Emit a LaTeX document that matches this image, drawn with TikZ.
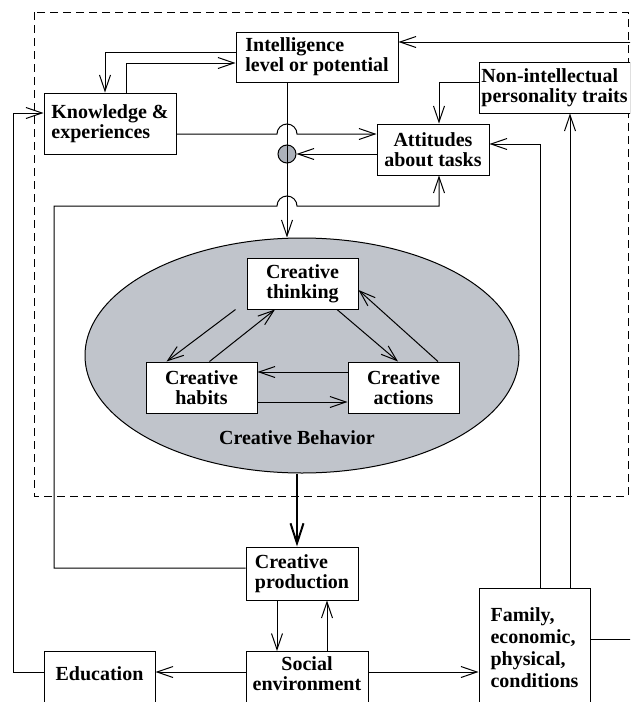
\documentclass[tikz,border=0pt]{standalone}
\usepackage{fontspec}
\setmainfont{Liberation Serif}
\usetikzlibrary{arrows.meta,shapes.geometric}
\definecolor{behavgray}{RGB}{192,196,203}
\definecolor{dotgray}{RGB}{172,177,186}

\begin{document}
\begin{tikzpicture}[x=1pt,y=-1pt,line width=1pt,
    box/.style={draw,fill=white,inner sep=0pt,font=\fontsize{20}{20}\selectfont\bfseries},
    arr/.style={-{Straight Barb[length=16pt,width=11pt]}},
    bigarr/.style={line width=2pt,-{Straight Barb[length=20pt,width=13pt]}}]
    \useasboundingbox (0,0) rectangle (630,702);
    \clip (0,0) rectangle (630,702);

    \draw[dash pattern=on 8pt off 5pt,line width=0.9pt] (34,12) rectangle (628,496);

    \node[ellipse,draw,fill=behavgray,minimum width=434,minimum height=235,inner sep=0pt] (behav) at (302,355.5) {};
    \node[anchor=base,font=\fontsize{20}{20}\selectfont\bfseries] (behavtxt) at (297,444) {Creative Behavior};

    \node[box,align=left,minimum width=162,minimum height=50] (intel) at (317,57) {Intelligence\\level or potential};
    \node[box,align=left,minimum width=132,minimum height=61] (know) at (110,123.5) {Knowledge \&\\experiences};
    \node[box,align=left,minimum width=151,minimum height=51] (nonint) at (554.5,87.5) {Non-intellectual\\personality traits};
    \node[box,align=center,minimum width=112,minimum height=51] (att) at (433,149.5) {Attitudes\\about tasks};
    \node[circle,draw,fill=dotgray,minimum size=18,inner sep=0pt] (dot) at (287,154) {};

    \node[box,align=center,minimum width=111,minimum height=51] (think) at (302.5,283.5) {Creative\\thinking};
    \node[box,align=center,minimum width=111,minimum height=51] (habits) at (201.5,387.5) {Creative\\habits};
    \node[box,align=center,minimum width=111,minimum height=51] (actions) at (403.5,387.5) {Creative\\actions};

    \node[box,align=left,minimum width=112,minimum height=53] (prod) at (302,573.5) {Creative\\production};
    \node[box,align=center,anchor=north,minimum width=122,text height=39pt,text depth=30pt] (social) at (307,651) {Social\\environment};
    \node[box,anchor=north,minimum width=111,text height=29pt,text depth=30pt] (edu) at (99.5,651) {Education};
    \node[box,align=left,anchor=north,minimum width=111,text height=99pt,text depth=40pt,
        font=\fontsize{20}{22}\selectfont\bfseries] (fam) at (534.5,588) {Family,\\economic,\\physical,\\conditions};

    % top part
    \draw[arr] ([yshift=4.5pt]intel.west) -| ([xshift=-5pt]know.north);
    \draw[arr] ([xshift=16pt]know.north) |- ([yshift=-6pt]intel.west);
    \draw[arr] (intel.south -| dot) -- (dot |- behav.north);
    \coordinate (kline) at ([yshift=-10.5pt]know.east);
    \draw[arr] (kline) -- ([xshift=-10pt]kline -| dot) arc[start angle=180,end angle=0,radius=10pt] -- (kline -| att.west);
    \draw[arr] ([yshift=-4.5pt]att.west) -- (dot.east);
    \draw[arr] ([yshift=5.5pt]nonint.west) -| ([xshift=6pt]att.north);
    \coordinate (lp) at (54,206);
    \draw[arr] ([yshift=5.5pt]prod.west) -| (lp) -- ([xshift=-10pt]lp -| dot) arc[start angle=180,end angle=0,radius=10pt] -| ([xshift=6pt]att.south);
    \draw[arr] ([xshift=5.5pt]fam.north) |- ([yshift=5.5pt]att.east);
    \draw[arr] ([xshift=35.5pt]fam.north) -- ([xshift=35.5pt]fam.north |- nonint.south);
    \draw[arr] ([yshift=-51pt]fam.north east) -- ++(60,0) |- ([yshift=15pt]intel.east);

    % creative behavior
    \draw[arr] ([xshift=-11pt]think.south west) -- ([xshift=21pt]habits.north west);
    \draw[arr] ([xshift=8pt]habits.north) -- ([xshift=-27.5pt]think.south);
    \draw[arr] ([xshift=34.5pt]think.south) -- ([xshift=-5.5pt]actions.north);
    \draw[arr] ([xshift=34.5pt]actions.north) -- ([yshift=-6.5pt]think.east);
    \draw[arr] ([yshift=15.5pt]actions.west) -- ([yshift=15.5pt]habits.east);
    \draw[arr] ([yshift=-14.5pt]habits.east) -- ([yshift=-14.5pt]actions.west);

    % bottom part
    \draw[bigarr] ([xshift=-5pt]behav.south) -- ([xshift=-5pt]prod.north);
    \draw[arr] ([xshift=-25pt]prod.south) -- ([xshift=-25pt]prod.south |- social.north);
    \draw[arr] ([xshift=25pt]prod.south |- social.north) -- ([xshift=25pt]prod.south);
    \draw[arr] ([yshift=-21pt]social.north west) -- ([yshift=-21pt]social.north west -| edu.east);
    \draw[arr] ([yshift=-21pt]social.north east) -- ([yshift=-21pt]social.north east -| fam.west);
    \draw[arr] ([yshift=-21pt]edu.north west) -- ++(-30,0) |- ([yshift=10.5pt]know.west);
\end{tikzpicture}
\end{document}
